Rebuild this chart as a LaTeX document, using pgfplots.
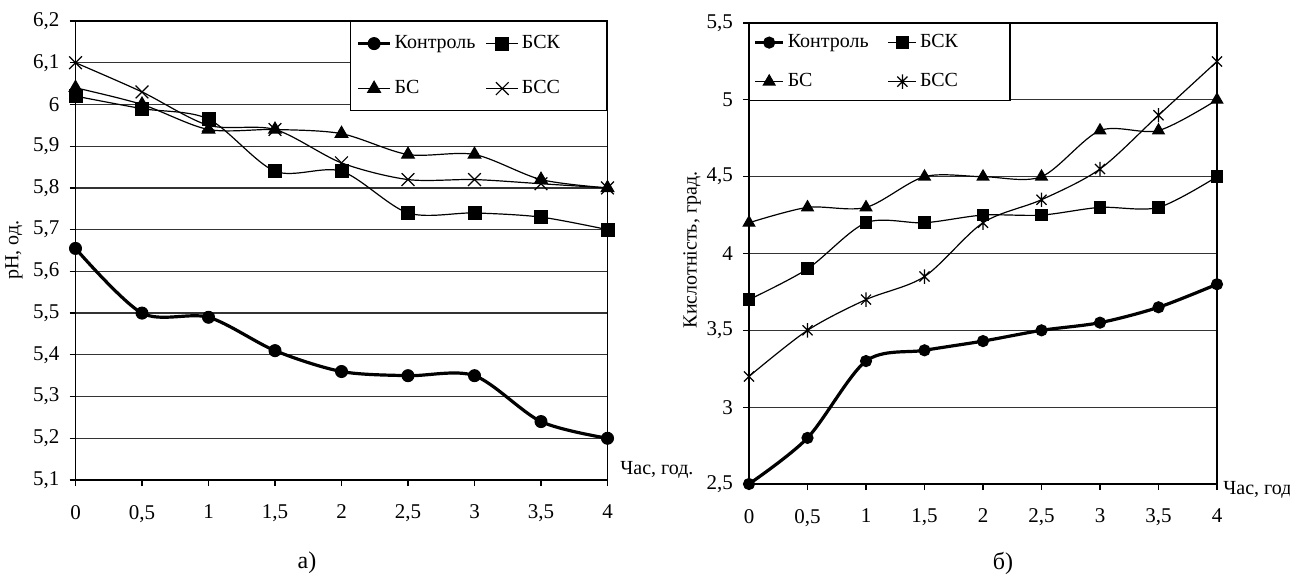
\documentclass[border=0pt]{standalone}
\usepackage{fontspec}
\setmainfont{Liberation Serif}
\usepackage{pgfplots}
\pgfplotsset{compat=1.18}

\pgfdeclareplotmark{xstar}{%
  \pgfpathmoveto{\pgfqpoint{-0.7\pgfplotmarksize}{-0.7\pgfplotmarksize}}%
  \pgfpathlineto{\pgfqpoint{0.7\pgfplotmarksize}{0.7\pgfplotmarksize}}%
  \pgfpathmoveto{\pgfqpoint{-0.7\pgfplotmarksize}{0.7\pgfplotmarksize}}%
  \pgfpathlineto{\pgfqpoint{0.7\pgfplotmarksize}{-0.7\pgfplotmarksize}}%
  \pgfpathmoveto{\pgfqpoint{0pt}{-\pgfplotmarksize}}%
  \pgfpathlineto{\pgfqpoint{0pt}{\pgfplotmarksize}}%
  \pgfusepathqstroke}

\pgfplotsset{
  mystyle/.style={
    scale only axis,
    xmin=0, xmax=4,
    xtick={0,0.5,1,1.5,2,2.5,3,3.5,4},
    tick align=outside,
    tick pos=left,
    major tick length=3pt,
    ymajorgrids,
    grid style={black!80, line width=0.6pt},
    axis line style={line width=0.7pt},
    tick style={black, line width=0.6pt},
    /pgf/number format/use comma,
    /pgf/number format/1000 sep={},
    /pgf/number format/assume math mode=true,
    ticklabel style={font=\fontsize{10.5}{12}\selectfont},
    xticklabel style={yshift=-6pt},
    yticklabel style={xshift=-1.5pt},
    clip=false,
    legend columns=2,
    legend cell align=left,
  },
  ctrl/.style={black, line width=1.6pt, smooth, mark=*, mark options={solid, fill=black, line width=0.5pt}},
  thinl/.style={black, line width=0.6pt, smooth},
}

\begin{document}
\begin{tikzpicture}[x=1pt,y=1pt]
\useasboundingbox (0,0) rectangle (645,287);

% ---------- a) ----------
\begin{axis}[mystyle,
  at={(37.75pt,47pt)}, anchor=south west,
  width=266pt, height=229.5pt,
  ymin=5.1, ymax=6.2,
  ytick={5.1,5.2,5.3,5.4,5.5,5.6,5.7,5.8,5.9,6,6.1,6.2},
  legend image code/.code={\draw[mark repeat=2,mark phase=2,#1] plot coordinates {(0pt,0pt) (8pt,0pt) (16pt,0pt)};},
  legend style={at={(rel axis cs:1,1)}, anchor=north east, draw=black, line width=0.6pt, fill=white,
    inner xsep=3pt, inner ysep=4.75pt, row sep=10pt,
    font=\fontsize{10}{12}\selectfont,
    nodes={inner sep=1.5pt, text height=7pt, text depth=2.5pt}},
]
\addplot[ctrl, mark size=3pt] coordinates {(0,5.655) (0.5,5.50) (1,5.49) (1.5,5.41) (2,5.36) (2.5,5.35) (3,5.35) (3.5,5.24) (4,5.20)};
\addlegendentry{\makebox[44pt][l]{Контроль}}
\addplot[thinl, mark=square*, mark size=3.2pt, mark options={solid, fill=black}] coordinates {(0,6.02) (0.5,5.99) (1,5.965) (1.5,5.84) (2,5.84) (2.5,5.74) (3,5.74) (3.5,5.73) (4,5.70)};
\addlegendentry{\makebox[38pt][l]{БСК}}
\addplot[thinl, mark=triangle*, mark size=3.6pt, mark options={solid, fill=black}] coordinates {(0,6.04) (0.5,6.00) (1,5.94) (1.5,5.94) (2,5.93) (2.5,5.88) (3,5.88) (3.5,5.82) (4,5.80)};
\addlegendentry{\makebox[44pt][l]{БС}}
\addplot[thinl, mark=x, mark size=4.5pt, mark options={solid, line width=0.6pt}] coordinates {(0,6.10) (0.5,6.03) (1,5.95) (1.5,5.94) (2,5.86) (2.5,5.82) (3,5.82) (3.5,5.81) (4,5.80)};
\addlegendentry{\makebox[38pt][l]{БСС}}
\end{axis}

% ---------- б) ----------
\begin{axis}[mystyle,
  at={(374.5pt,45pt)}, anchor=south west,
  width=234pt, height=230.5pt,
  ymin=2.5, ymax=5.5,
  ytick={2.5,3,3.5,4,4.5,5,5.5},
  legend image code/.code={\draw[mark repeat=2,mark phase=2,#1] plot coordinates {(0pt,0pt) (7pt,0pt) (14pt,0pt)};},
  legend style={at={(rel axis cs:0,1)}, anchor=north west, draw=black, line width=0.6pt, fill=white,
    inner xsep=2pt, inner ysep=3.25pt, row sep=7pt,
    font=\fontsize{10}{12}\selectfont,
    nodes={inner sep=1.5pt, text height=7pt, text depth=2.5pt}},
]
\addplot[ctrl, mark size=2.8pt] coordinates {(0,2.5) (0.5,2.8) (1,3.3) (1.5,3.37) (2,3.43) (2.5,3.5) (3,3.55) (3.5,3.65) (4,3.8)};
\addlegendentry{\makebox[48.5pt][l]{Контроль}}
\addplot[thinl, mark=square*, mark size=2.9pt, mark options={solid, fill=black}] coordinates {(0,3.7) (0.5,3.9) (1,4.2) (1.5,4.2) (2,4.25) (2.5,4.25) (3,4.3) (3.5,4.3) (4,4.5)};
\addlegendentry{\makebox[41.5pt][l]{БСК}}
\addplot[thinl, mark=triangle*, mark size=3.3pt, mark options={solid, fill=black}] coordinates {(0,4.2) (0.5,4.3) (1,4.3) (1.5,4.5) (2,4.5) (2.5,4.5) (3,4.8) (3.5,4.8) (4,5.0)};
\addlegendentry{\makebox[48.5pt][l]{БС}}
\addplot[thinl, mark=xstar, mark size=3.6pt, mark options={solid, line width=0.6pt}] coordinates {(0,3.2) (0.5,3.5) (1,3.7) (1.5,3.85) (2,4.2) (2.5,4.35) (3,4.55) (3.5,4.9) (4,5.25)};
\addlegendentry{\makebox[41.5pt][l]{БСС}}
\end{axis}

% labels
\node[rotate=90, font=\fontsize{10}{12}\selectfont] at (7,162) {pH, од.};
\node[rotate=90, font=\fontsize{10}{12}\selectfont] at (346,162) {Кислотність, град.};
\node[anchor=west, inner sep=0pt, font=\fontsize{10}{12}\selectfont] at (310,52) {Час, год.};
\node[anchor=west, inner sep=0pt, font=\fontsize{10}{12}\selectfont] at (611.5,42) {Час, год};
\node[font=\fontsize{12}{14}\selectfont] at (153.5,5.5) {а)};
\node[font=\fontsize{12}{14}\selectfont] at (501.5,5.5) {б)};
\end{tikzpicture}
\end{document}
